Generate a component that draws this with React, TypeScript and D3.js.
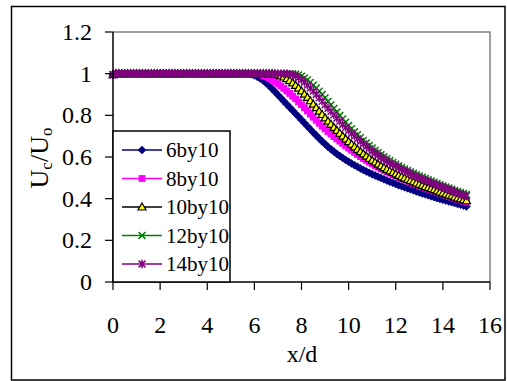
import React from "react";
import * as d3 from "d3";

const xs = [0,0.125,0.25,0.375,0.5,0.625,0.75,0.875,1,1.125,1.25,1.375,1.5,1.625,1.75,1.875,2,2.125,2.25,2.375,2.5,2.625,2.75,2.875,3,3.125,3.25,3.375,3.5,3.625,3.75,3.875,4,4.125,4.25,4.375,4.5,4.625,4.75,4.875,5,5.125,5.25,5.375,5.5,5.625,5.75,5.875,6,6.125,6.25,6.375,6.5,6.625,6.75,6.875,7,7.125,7.25,7.375,7.5,7.625,7.75,7.875,8,8.125,8.25,8.375,8.5,8.625,8.75,8.875,9,9.125,9.25,9.375,9.5,9.625,9.75,9.875,10,10.125,10.25,10.375,10.5,10.625,10.75,10.875,11,11.125,11.25,11.375,11.5,11.625,11.75,11.875,12,12.125,12.25,12.375,12.5,12.625,12.75,12.875,13,13.125,13.25,13.375,13.5,13.625,13.75,13.875,14,14.125,14.25,14.375,14.5,14.625,14.75,14.875,15];

const s6by10 = [0.995,1,1,1,1,1,1,1,1,1,1,1,1,1,1,1,1,1,1,1,1,1,1,1,1,1,1,1,1,1,1,1,1,1,1,1,1,1,1,1,1,1,1,1,1,1,1,
  0.997,0.992,0.985,0.977,0.967,0.955,0.942,0.928,0.913,0.898,0.883,0.868,0.853,0.838,0.823,0.808,0.793,0.778,0.763,0.748,0.733,0.718,0.703,0.689,0.675,0.662,0.649,0.637,0.626,0.615,0.605,0.595,0.586,0.577,0.569,0.561,0.553,0.545,0.538,0.531,0.524,0.517,0.511,0.505,0.499,0.493,0.487,0.481,0.476,0.47,0.465,0.46,0.455,0.45,0.445,0.44,0.435,0.43,0.425,0.421,0.416,0.412,0.407,0.403,0.399,0.395,0.391,0.387,0.383,0.379,0.375,0.371,0.367,0.363];
const s8by10 = [0.995,1,1,1,1,1,1,1,1,1,1,1,1,1,1,1,1,1,1,1,1,1,1,1,1,1,1,1,1,1,1,1,1,1,1,1,1,1,1,1,1,1,1,1,1,1,1,1,1,
  0.998,0.995,0.991,0.985,0.978,0.97,0.961,0.951,0.94,0.929,0.917,0.905,0.892,0.879,0.865,0.851,0.836,0.821,0.806,0.791,0.776,0.762,0.748,0.735,0.722,0.71,0.698,0.687,0.676,0.665,0.654,0.643,0.632,0.622,0.612,0.602,0.593,0.584,0.575,0.567,0.559,0.551,0.543,0.536,0.529,0.522,0.515,0.508,0.502,0.496,0.49,0.484,0.478,0.472,0.467,0.461,0.456,0.451,0.446,0.441,0.436,0.431,0.426,0.421,0.416,0.411,0.407,0.402,0.397,0.393,0.388,0.384];
const s10by10 = [0.995,1,1,1,1,1,1,1,1,1,1,1,1,1,1,1,1,1,1,1,1,1,1,1,1,1,1,1,1,1,1,1,1,1,1,1,1,1,1,1,1,1,1,1,1,1,1,1,1,1,1,1,1,1,1,
  0.998,0.995,0.99,0.984,0.976,0.967,0.956,0.944,0.931,0.917,0.902,0.886,0.87,0.854,0.837,0.82,0.804,0.788,0.772,0.757,0.742,0.728,0.714,0.7,0.687,0.674,0.661,0.649,0.637,0.626,0.615,0.604,0.594,0.584,0.575,0.566,0.557,0.549,0.541,0.533,0.526,0.519,0.512,0.505,0.499,0.493,0.487,0.481,0.475,0.469,0.464,0.458,0.453,0.448,0.443,0.437,0.432,0.427,0.422,0.417,0.413,0.408,0.403,0.399,0.394,0.39];
const s12by10 = [0.995,1,1,1,1,1,1,1,1,1,1,1,1,1,1,1,1,1,1,1,1,1,1,1,1,1,1,1,1,1,1,1,1,1,1,1,1,1,1,1,1,1,1,1,1,1,1,1,1,1,1,1,1,1,1,1,1,1,1,1,1,1,
  0.998,0.994,0.988,0.98,0.97,0.958,0.945,0.931,0.916,0.9,0.884,0.867,0.85,0.833,0.816,0.799,0.783,0.767,0.751,0.736,0.721,0.707,0.693,0.68,0.667,0.655,0.643,0.632,0.621,0.611,0.601,0.592,0.583,0.574,0.566,0.558,0.55,0.543,0.536,0.529,0.522,0.515,0.509,0.503,0.497,0.491,0.485,0.479,0.473,0.467,0.462,0.456,0.451,0.445,0.44,0.435,0.43,0.425,0.42];
const s14by10 = [0.995,1,1,1,1,1,1,1,1,1,1,1,1,1,1,1,1,1,1,1,1,1,1,1,1,1,1,1,1,1,1,1,1,1,1,1,1,1,1,1,1,1,1,1,1,1,1,1,1,1,1,1,1,1,1,1,1,1,1,1,
  0.998,0.994,0.988,0.98,0.97,0.958,0.945,0.931,0.916,0.9,0.884,0.867,0.85,0.834,0.818,0.802,0.786,0.771,0.756,0.741,0.727,0.713,0.7,0.687,0.675,0.663,0.651,0.64,0.629,0.619,0.609,0.599,0.59,0.581,0.572,0.564,0.556,0.548,0.541,0.534,0.527,0.52,0.513,0.507,0.501,0.495,0.489,0.483,0.477,0.471,0.466,0.46,0.455,0.449,0.444,0.439,0.433,0.428,0.423,0.418,0.413];

const seriesNames = ["6by10", "8by10", "10by10", "12by10", "14by10"];
const seriesData = [s6by10, s8by10, s10by10, s12by10, s14by10];
const seriesColors = ["#000080", "#FF00FF", "#000000", "#008000", "#800080"];
const seriesMarkers = ["diamond", "square", "triangle", "x", "star"];

const xTicks = [0, 2, 4, 6, 8, 10, 12, 14, 16];
const yTicks = [0, 0.2, 0.4, 0.6, 0.8, 1, 1.2];

const W = 507, H = 381;
const left = 113, right = 490, top = 32, bottom = 282;
const FONT = "Liberation Serif";

function Marker({ type, x, y, color }: { type: string; x: number; y: number; color: string }) {
  if (type === "diamond") {
    const r = 4;
    return <path d={`M${x},${y - r}L${x + r},${y}L${x},${y + r}L${x - r},${y}Z`} fill={color} stroke={color} strokeWidth={0.6} />;
  }
  if (type === "square") {
    const r = 3.4;
    return <rect x={x - r} y={y - r} width={2 * r} height={2 * r} fill={color} />;
  }
  if (type === "triangle") {
    const r = 4;
    return <path d={`M${x},${y - r}L${x + r},${y + r * 0.75}L${x - r},${y + r * 0.75}Z`} fill="#FFFF00" stroke="#000" strokeWidth={1.2} />;
  }
  if (type === "x") {
    const r = 3.4;
    return <path d={`M${x - r},${y - r}L${x + r},${y + r}M${x - r},${y + r}L${x + r},${y - r}`} stroke={color} strokeWidth={1.5} />;
  }
  const r = 3.4;
  return <path d={`M${x - r},${y - r}L${x + r},${y + r}M${x - r},${y + r}L${x + r},${y - r}M${x},${y - r - 0.8}L${x},${y + r + 0.8}`} stroke={color} strokeWidth={1.5} />;
}

export default function App() {
  const xScale = d3.scaleLinear().domain([0, 16]).range([left, right]);
  const yScale = d3.scaleLinear().domain([0, 1.2]).range([bottom, top]);
  const line = d3.line<number>().x((_, i) => xScale(xs[i])).y((d) => yScale(d));

  const legendX = 113, legendY = 131, legendW = 117, legendH = 151;
  const rowY = (i: number) => 150 + i * 28.5;
  const ts = { fontFamily: FONT };

  return (
    <div style={{ position: "absolute", left: 0, top: 0 }}>
      <svg width={W} height={H} style={{ display: "block", background: "#fff" }}>
        <rect x={11.5} y={6.5} width={493.5} height={373.5} fill="#fff" stroke="#000" strokeWidth={1.5} />
        <path d={`M${left},${top}H${right}V${bottom}`} fill="none" stroke="#808080" strokeWidth={1.5} />
        {seriesData.map((s, si) => (
          <g key={seriesNames[si]}>
            <path d={line(s) || ""} fill="none" stroke={seriesColors[si]} strokeWidth={1.5} />
            {s.map((v, i) => (
              <Marker key={i} type={seriesMarkers[si]} x={xScale(xs[i])} y={yScale(v)} color={seriesColors[si]} />
            ))}
          </g>
        ))}
        <line x1={left} x2={left} y1={top} y2={bottom} stroke="#000" strokeWidth={1.5} />
        <line x1={left} x2={right} y1={bottom} y2={bottom} stroke="#000" strokeWidth={1.5} />
        {yTicks.map((t) => (
          <g key={t}>
            <line x1={left - 8} x2={left} y1={yScale(t)} y2={yScale(t)} stroke="#000" strokeWidth={1.2} />
            <text x={92} y={yScale(t)} dy="0.34em" textAnchor="end" style={ts} fontSize={24}>{t}</text>
          </g>
        ))}
        {xTicks.map((t) => (
          <g key={t}>
            <line x1={xScale(t)} x2={xScale(t)} y1={bottom} y2={bottom + 8} stroke="#000" strokeWidth={1.2} />
            <text x={xScale(t)} y={333} textAnchor="middle" style={ts} fontSize={24}>{t}</text>
          </g>
        ))}
        <text x={302} y={362} textAnchor="middle" style={ts} fontSize={24}>x/d</text>
        <text transform={`translate(48,158) rotate(-90)`} textAnchor="middle" style={ts} fontSize={26}>
          U<tspan fontSize={17} dy={4}>c</tspan><tspan dy={-4}>/U</tspan><tspan fontSize={17} dy={4}>o</tspan>
        </text>
        <rect x={legendX} y={legendY} width={legendW} height={legendH} fill="#fff" stroke="#000" strokeWidth={1.5} />
        {seriesNames.map((n, i) => (
          <g key={n}>
            <line x1={122} x2={162} y1={rowY(i)} y2={rowY(i)} stroke={seriesColors[i]} strokeWidth={1.5} />
            <Marker type={seriesMarkers[i]} x={142} y={rowY(i)} color={seriesColors[i]} />
            <text x={166} y={rowY(i)} dy="0.34em" style={ts} fontSize={21}>{n}</text>
          </g>
        ))}
      </svg>
    </div>
  );
}
